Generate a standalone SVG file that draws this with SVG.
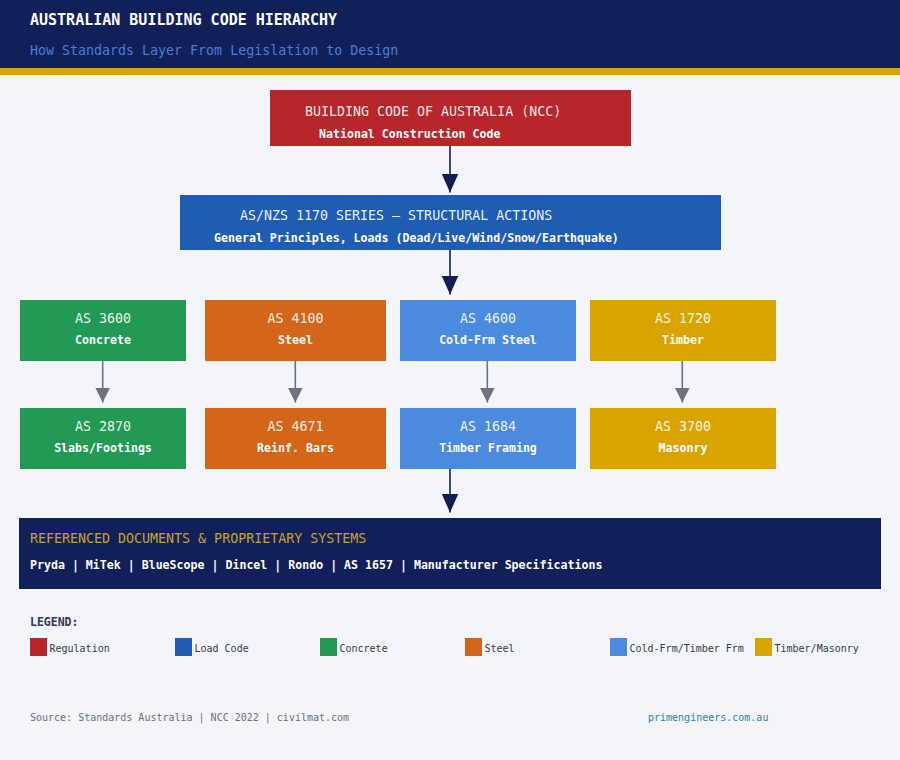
<svg xmlns="http://www.w3.org/2000/svg" width="900" height="760" viewBox="0 0 900 760">
<defs>
<style>
text{font-family:"DejaVu Sans Mono","Liberation Mono",monospace}
.t1{font-size:13.3px;fill:#ffffff;fill-opacity:0.92}
.t2{font-size:11.6px;font-weight:bold;fill:#ffffff}
.mid{text-anchor:middle}
.lg{font-size:10px;fill:#333a4a}
.navy{stroke:#0f1f55;stroke-width:1.6;fill:none}
.gray{stroke:#6b7280;stroke-width:1.6;fill:none}
</style>
<marker id="ahNavy" viewBox="0 0 19 17" refX="19" refY="8.5" markerWidth="19" markerHeight="17" markerUnits="userSpaceOnUse" orient="auto">
<path d="M0,0 L19,8.5 L0,17 Z" fill="#0f1f55"/>
</marker>
<marker id="ahGray" viewBox="0 0 15 15" refX="15" refY="7.5" markerWidth="15" markerHeight="15" markerUnits="userSpaceOnUse" orient="auto">
<path d="M0,0 L15,7.5 L0,15 Z" fill="#6b7280"/>
</marker>
</defs>
<rect width="900" height="760" fill="#f3f5fb"/>
<g id="header">
<rect x="0" y="0" width="900" height="68" fill="#12205a"/>
<rect x="0" y="68" width="900" height="7" fill="#d9a40f"/>
<text x="30" y="25" style="font-size:15px;font-weight:bold;fill:#ffffff">AUSTRALIAN BUILDING CODE HIERARCHY</text>
<text x="30" y="55" style="font-size:13.3px;fill:#4a7fd4">How Standards Layer From Legislation to Design</text>
</g>
<g id="connectors">
<line class="navy" x1="450" y1="146" x2="450" y2="192.5" marker-end="url(#ahNavy)"/>
<line class="navy" x1="450" y1="250" x2="450" y2="294.5" marker-end="url(#ahNavy)"/>
<line class="navy" x1="450" y1="469" x2="450" y2="512.5" marker-end="url(#ahNavy)"/>
<line class="gray" x1="102.7" y1="361" x2="102.7" y2="402.5" marker-end="url(#ahGray)"/>
<line class="gray" x1="295.3" y1="361" x2="295.3" y2="402.5" marker-end="url(#ahGray)"/>
<line class="gray" x1="487.3" y1="361" x2="487.3" y2="402.5" marker-end="url(#ahGray)"/>
<line class="gray" x1="682.3" y1="361" x2="682.3" y2="402.5" marker-end="url(#ahGray)"/>
</g>
<g id="ncc">
<rect x="270" y="90" width="361" height="56" fill="#b8262b"/>
<text class="t1" x="305" y="116">BUILDING CODE OF AUSTRALIA (NCC)</text>
<text class="t2" x="319" y="138">National Construction Code</text>
</g>
<g id="as1170">
<rect x="180" y="195" width="541" height="55" fill="#1f5db5"/>
<text class="t1" x="240" y="220">AS/NZS 1170 SERIES – STRUCTURAL ACTIONS</text>
<text class="t2" x="214" y="242">General Principles, Loads (Dead/Live/Wind/Snow/Earthquake)</text>
</g>
<g id="as3600">
<rect x="20" y="300" width="166" height="61" fill="#229a55"/>
<text class="t1 mid" x="103" y="323">AS 3600</text>
<text class="t2 mid" x="103" y="344">Concrete</text>
</g>
<g id="as4100">
<rect x="205" y="300" width="181" height="61" fill="#d4661a"/>
<text class="t1 mid" x="295.5" y="323">AS 4100</text>
<text class="t2 mid" x="295.5" y="344">Steel</text>
</g>
<g id="as4600">
<rect x="400" y="300" width="176" height="61" fill="#4a8be0"/>
<text class="t1 mid" x="488" y="323">AS 4600</text>
<text class="t2 mid" x="488" y="344">Cold-Frm Steel</text>
</g>
<g id="as1720">
<rect x="590" y="300" width="186" height="61" fill="#d9a300"/>
<text class="t1 mid" x="683" y="323">AS 1720</text>
<text class="t2 mid" x="683" y="344">Timber</text>
</g>
<g id="as2870">
<rect x="20" y="408" width="166" height="61" fill="#229a55"/>
<text class="t1 mid" x="103" y="431">AS 2870</text>
<text class="t2 mid" x="103" y="452">Slabs/Footings</text>
</g>
<g id="as4671">
<rect x="205" y="408" width="181" height="61" fill="#d4661a"/>
<text class="t1 mid" x="295.5" y="431">AS 4671</text>
<text class="t2 mid" x="295.5" y="452">Reinf. Bars</text>
</g>
<g id="as1684">
<rect x="400" y="408" width="176" height="61" fill="#4a8be0"/>
<text class="t1 mid" x="488" y="431">AS 1684</text>
<text class="t2 mid" x="488" y="452">Timber Framing</text>
</g>
<g id="as3700">
<rect x="590" y="408" width="186" height="61" fill="#d9a300"/>
<text class="t1 mid" x="683" y="431">AS 3700</text>
<text class="t2 mid" x="683" y="452">Masonry</text>
</g>
<g id="referenced">
<rect x="19" y="518" width="862" height="71" fill="#12205a"/>
<text x="30" y="543" style="font-size:13.3px;fill:#c9a227">REFERENCED DOCUMENTS &amp; PROPRIETARY SYSTEMS</text>
<text class="t2" x="30" y="569">Pryda | MiTek | BlueScope | Dincel | Rondo | AS 1657 | Manufacturer Specifications</text>
</g>
<g id="legend">
<text x="30" y="626" style="font-size:11.5px;font-weight:bold;fill:#333a4a">LEGEND:</text>
<rect x="30" y="638" width="17" height="18" fill="#b8262b"/>
<text class="lg" x="49.5" y="652">Regulation</text>
<rect x="175" y="638" width="17" height="18" fill="#1f5db5"/>
<text class="lg" x="194.5" y="652">Load Code</text>
<rect x="320" y="638" width="17" height="18" fill="#229a55"/>
<text class="lg" x="339.5" y="652">Concrete</text>
<rect x="465" y="638" width="17" height="18" fill="#d4661a"/>
<text class="lg" x="484.5" y="652">Steel</text>
<rect x="610" y="638" width="17" height="18" fill="#4a8be0"/>
<text class="lg" x="629.5" y="652">Cold-Frm/Timber Frm</text>
<rect x="755" y="638" width="17" height="18" fill="#d9a300"/>
<text class="lg" x="774.5" y="652">Timber/Masonry</text>
</g>
<g id="footer">
<text x="30" y="721" style="font-size:10px;fill:#667085">Source: Standards Australia | NCC 2022 | civilmat.com</text>
<text x="648" y="721" style="font-size:10px;fill:#3a7ca5">primengineers.com.au</text>
</g>
</svg>
